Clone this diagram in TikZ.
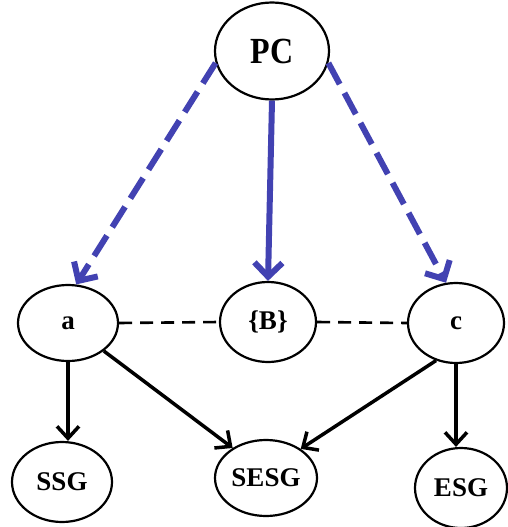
\documentclass[tikz,border=0pt]{standalone}
\usepackage{fontspec}
\usepackage{graphicx}
\setmainfont{Liberation Serif}
\usetikzlibrary{shapes.geometric,arrows.meta}
\definecolor{pcblue}{RGB}{66,66,178}
\tikzset{
  ell/.style={ellipse,draw=black,line width=2.2pt,inner sep=0pt,font=\bfseries\fontsize{27}{27}\selectfont},
  blk/.style={draw=black,line width=3.5pt,-{Straight Barb[length=12pt,width=22pt,line width=3.5pt]}},
  blu/.style={draw=pcblue,line width=6pt,-{Straight Barb[length=14pt,width=28pt,line width=6pt]}},
  bludash/.style={blu,dash pattern=on 24pt off 10pt},
  undir/.style={draw=black,line width=2.6pt,dash pattern=on 13pt off 8pt}
}
\begin{document}
\begin{tikzpicture}[x=1pt,y=-1pt]
\useasboundingbox (0,0) rectangle (508,527);
\node[ell,minimum width=114pt,minimum height=97pt] (PC) at (272,51) {\fontsize{32}{32}\selectfont\scalebox{1}[1.15]{PC}};
\node[ell,minimum width=100pt,minimum height=76pt] (a) at (68,323) {a};
\node[ell,minimum width=96pt,minimum height=80pt] (B) at (268,322) {\{B\}};
\node[ell,minimum width=96pt,minimum height=80pt] (c) at (456,323) {c};
\node[ell,minimum width=100pt,minimum height=80pt] (SSG) at (62,482) {SSG};
\node[ell,minimum width=102pt,minimum height=76pt] (SESG) at (266,478) {SESG};
\node[ell,minimum width=92pt,minimum height=80pt] (ESG) at (461,488) {ESG};
\draw[bludash] (PC.192) -- (a.78);
\draw[blu] (PC.south) -- (B.north);
\draw[bludash] (PC.348) -- (c.104);
\draw[undir] (a.east) -- (B.west);
\draw[undir] (B.east) -- (c.west);
\draw[blk] (a.south) -- (SSG.north -| a.south);
\draw[blk] (a.-38) -- (SESG.138);
\draw[blk] (c.-118) -- (SESG.40);
\draw[blk] (c.south) -- (ESG.north -| c.south);
\end{tikzpicture}
\end{document}
